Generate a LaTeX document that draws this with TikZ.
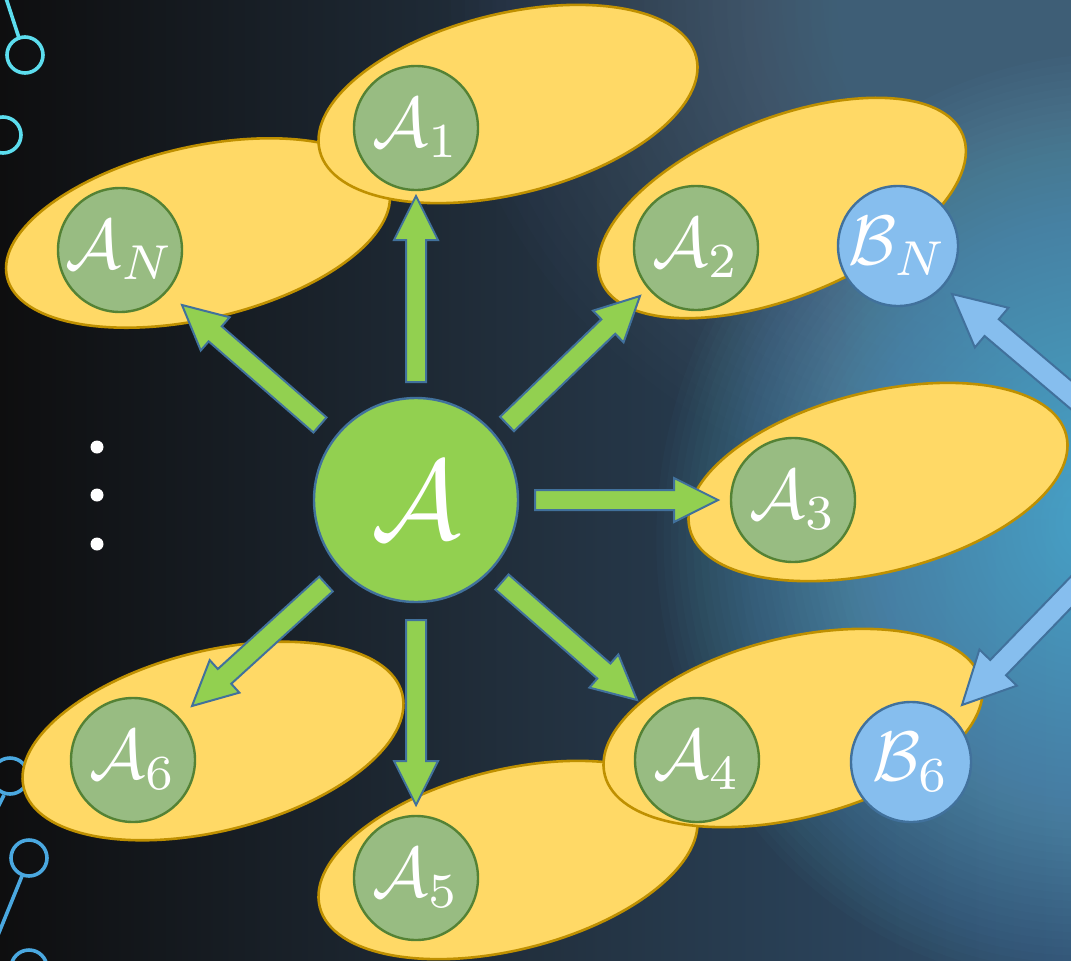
\documentclass[tikz,border=0pt]{standalone}
\usepackage{graphicx}
\usetikzlibrary{calc}
\definecolor{ellfill}{HTML}{FFD966}
\definecolor{elldraw}{HTML}{BF9000}
\definecolor{agreen}{HTML}{92D050}
\definecolor{sage}{HTML}{98BC82}
\definecolor{sagedraw}{HTML}{548235}
\definecolor{bblue}{HTML}{86BEEE}
\definecolor{edgeblue}{HTML}{41719C}
\definecolor{bgL}{HTML}{0E0E0F}
\definecolor{bgM}{HTML}{22303E}
\definecolor{bgR}{HTML}{30506E}
\definecolor{glow}{HTML}{70CCF6}
\definecolor{glowtop}{HTML}{7090A8}
\definecolor{decocyan}{HTML}{5CDDEE}
\definecolor{decoblue}{HTML}{4AA8E0}
\newcommand\mylab[1]{\scalebox{7}{$#1$}}
\newcommand\mybig[1]{\scalebox{11.2}{$#1$}}
\newcommand\blockarrow[6]{%
  \path ($(#3)!#6!(#2)$) coordinate (ba);
  \filldraw[#1] ($(#2)!#4!90:(#3)$) -- ($(ba)!#4!90:(#3)$) -- ($(ba)!#5!90:(#3)$) -- (#3)
    -- ($(ba)!#5!-90:(#3)$) -- ($(ba)!#4!-90:(#3)$) -- ($(#2)!#4!-90:(#3)$) -- cycle;
}
\tikzset{
  ell/.style={fill=ellfill, draw=elldraw, line width=2.6pt},
  acirc/.style={circle, fill=sage, draw=sagedraw, line width=2.4pt, minimum size=124pt, inner sep=0pt, text=white},
  bcirc/.style={circle, fill=bblue, draw=edgeblue, line width=2.4pt, minimum size=120pt, inner sep=0pt, text=white},
  bigcirc/.style={circle, fill=agreen, draw=edgeblue, line width=2.4pt, minimum size=204pt, inner sep=0pt, text=white},
  garrow/.style={fill=agreen, draw=edgeblue, line width=2pt, line join=miter},
  barrow/.style={fill=bblue, draw=edgeblue, line width=2pt, line join=miter},
  deco/.style={line width=3.6pt}
}
\begin{document}
\begin{tikzpicture}[x=1pt,y=-1pt]
\useasboundingbox (0,0) rectangle (1071,961);
\begin{scope}
\clip (0,0) rectangle (1071,961);
% background
\shade[left color=bgL, right color=bgR, middle color=bgM] (0,0) rectangle (1071,961);
\foreach \i in {0,...,44} {
  \fill[glowtop, opacity=0.02] (1071,0) ellipse [x radius={620pt*(1-\i/45)}, y radius={520pt*(1-\i/45)}];
}
\foreach \i in {0,...,59} {
  \fill[glow, opacity=0.024, rotate around={-20:(1100,520)}] (1100,520) ellipse [x radius={440pt*(1-\i/60)}, y radius={470pt*(1-\i/60)}];
}
% left decorations
\draw[decocyan, deco] (5,-5) -- (19,38);
\draw[decocyan, deco] (25,55) circle[radius=18pt];
\draw[decocyan, deco] (3,135) circle[radius=18pt];
\draw[decoblue, deco] (10,776) circle[radius=18pt];
\draw[decoblue, deco] (4,795) -- (-6,815);
\draw[decoblue, deco] (29,858) circle[radius=18pt];
\draw[decoblue, deco] (22,876) -- (-4,940);
\draw[decoblue, deco] (29,968) circle[radius=18pt];
% dots
\fill[white] (97,447) circle[radius=6.5pt];
\fill[white] (97,495) circle[radius=6.5pt];
\fill[white] (97,544) circle[radius=6.5pt];
% ellipses
\draw[ell, rotate around={14:(508,860)}] (508,860) ellipse [x radius=194pt, y radius=90pt];
\draw[ell, rotate around={14:(793,728)}] (793,728) ellipse [x radius=194pt, y radius=90pt];
\draw[ell, rotate around={14:(213,741)}] (213,741) ellipse [x radius=195pt, y radius=90pt];
\draw[ell, rotate around={14:(878,482)}] (878,482) ellipse [x radius=194pt, y radius=90pt];
\draw[ell, rotate around={13:(198,233)}] (198,233) ellipse [x radius=196pt, y radius=86pt];
\draw[ell, rotate around={14:(508,104)}] (508,104) ellipse [x radius=194pt, y radius=90pt];
\draw[ell, rotate around={22:(782,208)}] (782,208) ellipse [x radius=195pt, y radius=89pt];
% nodes
\node[bigcirc] (a) at (416,500) {\mybig{\mathcal{A}}};
\node[acirc] (aN) at (120,250) {\mylab{\mathcal{A}_N}};
\node[acirc] (a1) at (416,128) {\mylab{\mathcal{A}_1}};
\node[acirc] (a2) at (696,248) {\mylab{\mathcal{A}_2}};
\node[bcirc] (bN) at (898,246) {\mylab{\mathcal{B}_N}};
\node[acirc] (a3) at (793,500) {\mylab{\mathcal{A}_3}};
\node[acirc] (a4) at (697,760) {\mylab{\mathcal{A}_4}};
\node[acirc] (a5) at (416,878) {\mylab{\mathcal{A}_5}};
\node[acirc] (a6) at (133,760) {\mylab{\mathcal{A}_6}};
% arrow end points
\coordinate (s1) at (416,382); \coordinate (t1) at (416,196);
\coordinate (sN) at (320,425); \coordinate (tN) at (182,305);
\coordinate (s2) at (507,424); \coordinate (t2) at (640,296);
\coordinate (s3) at (535,500); \coordinate (t3) at (718,500);
\coordinate (s4) at (502,582); \coordinate (t4) at (637,700);
\coordinate (s5) at (416,620); \coordinate (t5) at (416,805);
\coordinate (s6) at (326,584); \coordinate (t6) at (192,706);
\blockarrow{garrow}{s1}{t1}{10pt}{22pt}{44pt}
\blockarrow{garrow}{sN}{tN}{10pt}{22pt}{44pt}
\blockarrow{garrow}{s2}{t2}{10pt}{22pt}{44pt}
\blockarrow{garrow}{s3}{t3}{10pt}{22pt}{44pt}
\blockarrow{garrow}{s4}{t4}{10pt}{22pt}{44pt}
\blockarrow{garrow}{s5}{t5}{10pt}{22pt}{44pt}
\blockarrow{garrow}{s6}{t6}{10pt}{22pt}{44pt}
% blue arrows
\coordinate (u1) at (1135,449); \coordinate (v1) at (952,294);
\coordinate (u2) at (1135,526); \coordinate (v2) at (962,705);
\blockarrow{barrow}{u1}{v1}{11pt}{26pt}{52pt}
\blockarrow{barrow}{u2}{v2}{11pt}{26pt}{52pt}
\node[bcirc] (b6) at (911,762) {\mylab{\mathcal{B}_6}};
\end{scope}
\end{tikzpicture}
\end{document}
